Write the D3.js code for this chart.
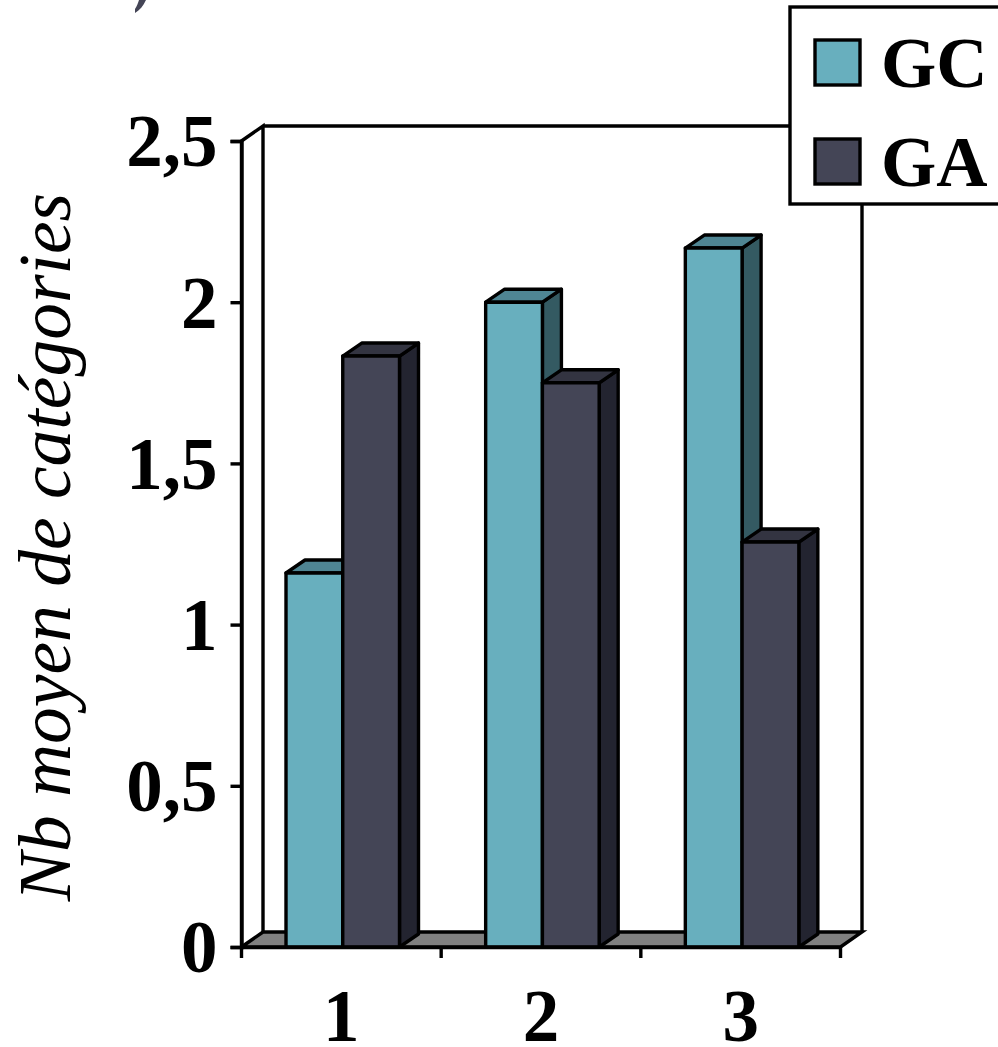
<!DOCTYPE html>
<html><head><meta charset="utf-8">
<script src="https://cdn.jsdelivr.net/npm/d3@7"></script>
<style>html,body{margin:0;padding:0;background:#fff;overflow:hidden}svg{display:block}
text{font-family:"Liberation Serif","Times New Roman",serif;fill:#000}</style></head><body>
<svg id="c" width="998" height="1047"></svg>
<script>
const categories = ["1","2","3"];
const seriesNames = ["GC","GA"];
const gcValues = [1.16,2.0,2.168];
const gaValues = [1.833,1.75,1.256];
const yTicks = [0,0.5,1,1.5,2,2.5];
const yTitle = "Nb moyen de catégories";
const colors = {GC:{front:"#68afbe",top:"#4f8593",side:"#345a62"},GA:{front:"#444556",top:"#333441",side:"#232430"}};
const values = {GC:gcValues,GA:gaValues};

const svg = d3.select("#c");
const x0=241.5,x1=840.5,yB=947,yT=141,wx=21.5,wy=-15,bx=19,by=-13,lw=3.4;
const x = d3.scaleBand().domain(categories).range([x0,x1]);
const xs = d3.scaleBand().domain(seriesNames).range([44.5,158]);
const y = d3.scaleLinear().domain([0,2.5]).range([yB,yT]);

const g = svg.append("g").attr("fill","none").attr("stroke","#000").attr("stroke-width",lw).attr("stroke-linejoin","miter");
g.append("path").attr("fill","#808080").attr("d",d3.line()([[x0,yB],[x0+wx,yB+wy],[x1+wx,yB+wy],[x1,yB]])+"Z");
g.append("path").attr("d",d3.line()([[x0,yB],[x0,yT],[x0+wx,yT+wy],[x0+wx,yB+wy]]));
g.append("path").attr("d",d3.line()([[x0+wx,yT+wy],[x1+wx,yT+wy],[x1+wx,yB+wy]]));

categories.forEach((c,i)=>{
  seriesNames.forEach(s=>{
    const v=values[s][i], a=x(c)+xs(s), b=a+xs.bandwidth(), t=y(v), col=colors[s];
    const bars=svg.append("g").attr("stroke","#000").attr("stroke-width",lw).attr("stroke-linejoin","round");
    bars.append("path").attr("fill",col.side).attr("d",d3.line()([[b,yB],[b+bx,yB+by],[b+bx,t+by],[b,t]])+"Z");
    bars.append("path").attr("fill",col.top).attr("d",d3.line()([[a,t],[a+bx,t+by],[b+bx,t+by],[b,t]])+"Z");
    bars.append("rect").attr("x",a).attr("y",t).attr("width",b-a).attr("height",yB-t).attr("fill",col.front);
  });
});

const fmt=d=>String(d).replace(".",",");
const ya=svg.append("g").attr("transform",`translate(${x0},0)`).call(d3.axisLeft(y).tickValues(yTicks).tickFormat(fmt).tickSize(11).tickPadding(13));
const xa=svg.append("g").attr("transform",`translate(0,${yB})`).call(d3.axisBottom(x).tickSize(0).tickPadding(42));
[ya,xa].forEach(a=>{a.selectAll("path").attr("stroke","#000").attr("stroke-width",lw);
  a.selectAll("line").attr("stroke","#000").attr("stroke-width",lw);
  a.selectAll("text").attr("font-size",73).attr("font-weight","bold").attr("font-family",'"Liberation Serif"').attr("fill","#000");});
ya.selectAll("text").attr("dy","0.34em");
xa.selectAll("text").attr("dy","0.71em");
svg.append("g").selectAll("line").data(d3.range(categories.length+1)).join("line")
  .attr("x1",i=>x0+x.step()*i).attr("x2",i=>x0+x.step()*i).attr("y1",yB).attr("y2",yB+11)
  .attr("stroke","#000").attr("stroke-width",lw);

svg.append("text").attr("transform","translate(70,547) rotate(-90)").attr("text-anchor","middle")
  .attr("font-size",73.5).attr("font-style","italic").text(yTitle);

const lg=svg.append("g");
lg.append("rect").attr("x",790).attr("y",7).attr("width",220).attr("height",197).attr("fill","#fff").attr("stroke","#000").attr("stroke-width",lw);
const ly=d3.scalePoint().domain(seriesNames).range([63,162]);
seriesNames.forEach(s=>{
  lg.append("rect").attr("x",815).attr("y",ly(s)-23).attr("width",45).attr("height",45).attr("fill",colors[s].front).attr("stroke","#000").attr("stroke-width",lw);
  lg.append("text").attr("x",881).attr("y",ly(s)+24).attr("font-size",71).attr("font-weight","bold").text(s);
});

svg.append("path").attr("fill","#444556").attr("d","M146,0 C143,6 140,10 135,13 L135,9 C137,6 138,3 139,0 Z");
</script></body></html>
